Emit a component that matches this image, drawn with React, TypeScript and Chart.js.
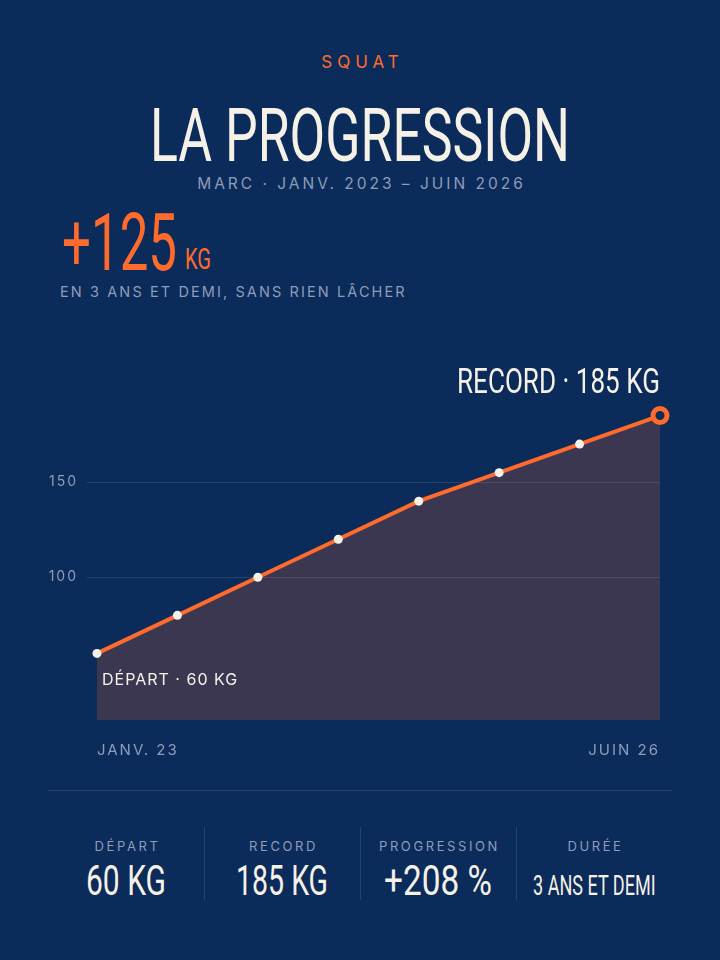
import { useEffect, useRef } from "react";
import { Chart, registerables } from "chart.js";
Chart.register(...registerables);

const months = [
  "JANV. 23",
  "JUIL. 23",
  "JANV. 24",
  "JUIL. 24",
  "JANV. 25",
  "JUIL. 25",
  "JANV. 26",
  "JUIN 26",
];
const squatKg = [60, 80, 100, 120, 140, 155, 170, 185];
const yTicks = [100, 150];

const statLabels = ["DÉPART", "RECORD", "PROGRESSION", "DURÉE"];
const statValues = ["60 KG", "185 KG", "+208 %", "3 ANS ET DEMI"];
const statWidths = [80, 92, 108, 123];

const BG = "#0b2b5a";
const ORANGE = "#ff6b2c";
const CREAM = "#f6f1e7";
const MUTED = "#8f9cba";
const LINE = "#254470";
const NARROW = "Roboto, 'Noto Sans', sans-serif";
const SANS = "Inter, 'Noto Sans', sans-serif";

// condensed display font is not installed: squeeze Roboto horizontally to the target width
const measureCtx = document.createElement("canvas").getContext("2d")!;
const squeeze = (text: string, size: number, width: number) => {
  measureCtx.font = `${size}px ${NARROW}`;
  return width / measureCtx.measureText(text).width;
};

const labelsPlugin = {
  id: "labels",
  beforeDraw(chart: Chart) {
    (chart.ctx as any).letterSpacing = "2px";
  },
  afterDatasetsDraw(chart: Chart) {
    const ctx = chart.ctx as any;
    const pts = chart.getDatasetMeta(0).data;
    const first = pts[0];
    const last = pts[pts.length - 1];
    const rec = `RECORD · ${squatKg[squatKg.length - 1]} KG`;
    ctx.save();
    ctx.letterSpacing = "0px";
    ctx.fillStyle = CREAM;
    ctx.font = `35px ${NARROW}`;
    ctx.textAlign = "right";
    ctx.textBaseline = "alphabetic";
    const sx = squeeze(rec, 35, 203);
    ctx.translate(last.x, last.y - 23);
    ctx.scale(sx, 1);
    ctx.fillText(rec, 0, 0);
    ctx.restore();
    ctx.save();
    ctx.letterSpacing = "1px";
    ctx.fillStyle = CREAM;
    ctx.font = `16px ${SANS}`;
    ctx.textAlign = "left";
    ctx.textBaseline = "middle";
    ctx.fillText(`DÉPART · ${squatKg[0]} KG`, first.x + 5, first.y + 27);
    ctx.restore();
  },
};

const ProgressChart = () => {
  const canvasRef = useRef<HTMLCanvasElement>(null);
  const chartRef = useRef<Chart | null>(null);

  useEffect(() => {
    if (!canvasRef.current) return;
    if (chartRef.current) chartRef.current.destroy();
    const n = squatKg.length;

    chartRef.current = new Chart(canvasRef.current, {
      type: "line",
      data: {
        labels: months,
        datasets: [
          {
            data: squatKg,
            borderColor: ORANGE,
            borderWidth: 4,
            backgroundColor: "rgba(255,107,44,0.2)",
            fill: "start",
            tension: 0,
            pointRadius: squatKg.map((_, i) => (i === n - 1 ? 7 : 4.5)),
            pointBorderWidth: squatKg.map((_, i) => (i === n - 1 ? 5 : 0)),
            pointBackgroundColor: squatKg.map((_, i) => (i === n - 1 ? BG : CREAM)),
            pointBorderColor: ORANGE,
          },
        ],
      },
      options: {
        animation: false,
        responsive: true,
        maintainAspectRatio: false,
        layout: { padding: { top: 37, right: 0, left: 0, bottom: 0 } },
        plugins: { legend: { display: false }, tooltip: { enabled: false } },
        scales: {
          x: {
            border: { display: false },
            grid: { display: false },
            afterFit: (s: any) => {
              s.height = 50;
            },
            ticks: {
              color: MUTED,
              font: { family: SANS, size: 15 },
              padding: 13,
              autoSkip: false,
              maxRotation: 0,
              align: "inner",
              callback: (_v: any, i: number) => (i === 0 || i === n - 1 ? months[i] : ""),
            },
          },
          y: {
            min: 25,
            max: 200,
            border: { display: false },
            afterFit: (s: any) => {
              s.width = 49;
            },
            afterBuildTicks: (s: any) => {
              s.ticks = yTicks.map((v) => ({ value: v }));
            },
            grid: {
              color: "rgba(120,150,200,0.22)",
              lineWidth: 1,
              drawTicks: true,
              tickLength: 10,
            },
            ticks: {
              color: MUTED,
              font: { family: SANS, size: 14 },
              padding: 9,
            },
          },
        },
      },
      plugins: [labelsPlugin],
    });

    return () => {
      chartRef.current?.destroy();
    };
  }, []);

  return (
    <div style={{ position: "absolute", left: 48, top: 350, width: 625, height: 420 }}>
      <canvas ref={canvasRef} />
    </div>
  );
};

const spaced = (size: number, spacing: number, color: string) => ({
  fontFamily: SANS,
  fontSize: size,
  letterSpacing: spacing,
  color,
});

// text in the squeezed display face, left edge at `left`, cap top at `capTop`
const Display = ({
  text,
  size,
  width,
  left,
  capTop,
  color,
}: {
  text: string;
  size: number;
  width: number;
  left: number;
  capTop: number;
  color: string;
}) => (
  <div
    style={{
      position: "absolute",
      left,
      top: capTop - 0.13 * size,
      fontFamily: NARROW,
      fontSize: size,
      lineHeight: 1,
      color,
      whiteSpace: "nowrap",
      transformOrigin: "0 0",
      transform: `scaleX(${squeeze(text, size, width)})`,
    }}
  >
    {text}
  </div>
);

export default function App() {
  return (
    <div
      style={{
        position: "absolute",
        left: 0,
        top: 0,
        width: 720,
        height: 960,
        background: BG,
        overflow: "hidden",
      }}
    >
      <div style={{ position: "absolute", top: 50, left: 0, width: 725, textAlign: "center", lineHeight: "24px", ...spaced(17, 5, ORANGE) }}>
        SQUAT
      </div>
      <Display text="LA PROGRESSION" size={75} width={420} left={150} capTop={108} color={CREAM} />
      <div style={{ position: "absolute", top: 173, left: 0, width: 723, textAlign: "center", lineHeight: "22px", ...spaced(15.5, 3, MUTED) }}>
        MARC · JANV. 2023 – JUIN 2026
      </div>
      <Display text="+125" size={79} width={115} left={62} capTop={214} color={ORANGE} />
      <Display text="KG" size={29} width={26} left={185} capTop={249} color={ORANGE} />
      <div style={{ position: "absolute", left: 60, top: 282, lineHeight: "20px", whiteSpace: "nowrap", ...spaced(14.5, 2.1, MUTED) }}>
        EN 3 ANS ET DEMI, SANS RIEN LÂCHER
      </div>

      <ProgressChart />

      <div style={{ position: "absolute", left: 48, top: 790, width: 624, height: 1, background: LINE }} />

      {statLabels.map((lab, i) => {
        const cx = 126 + i * 156;
        const size = i === 3 ? 27 : 42;
        const capH = i === 3 ? 18.5 : 30;
        return (
          <div key={lab}>
            {i > 0 && (
              <div style={{ position: "absolute", left: 48 + i * 156, top: 827, width: 1, height: 73, background: LINE }} />
            )}
            <div
              style={{
                position: "absolute",
                left: cx - 78,
                width: 159,
                top: 836,
                textAlign: "center",
                lineHeight: "20px",
                ...spaced(13, 2.6, MUTED),
              }}
            >
              {lab}
            </div>
            <Display
              text={statValues[i]}
              size={size}
              width={statWidths[i]}
              left={cx - statWidths[i] / 2}
              capTop={895 - capH}
              color={CREAM}
            />
          </div>
        );
      })}
    </div>
  );
}
